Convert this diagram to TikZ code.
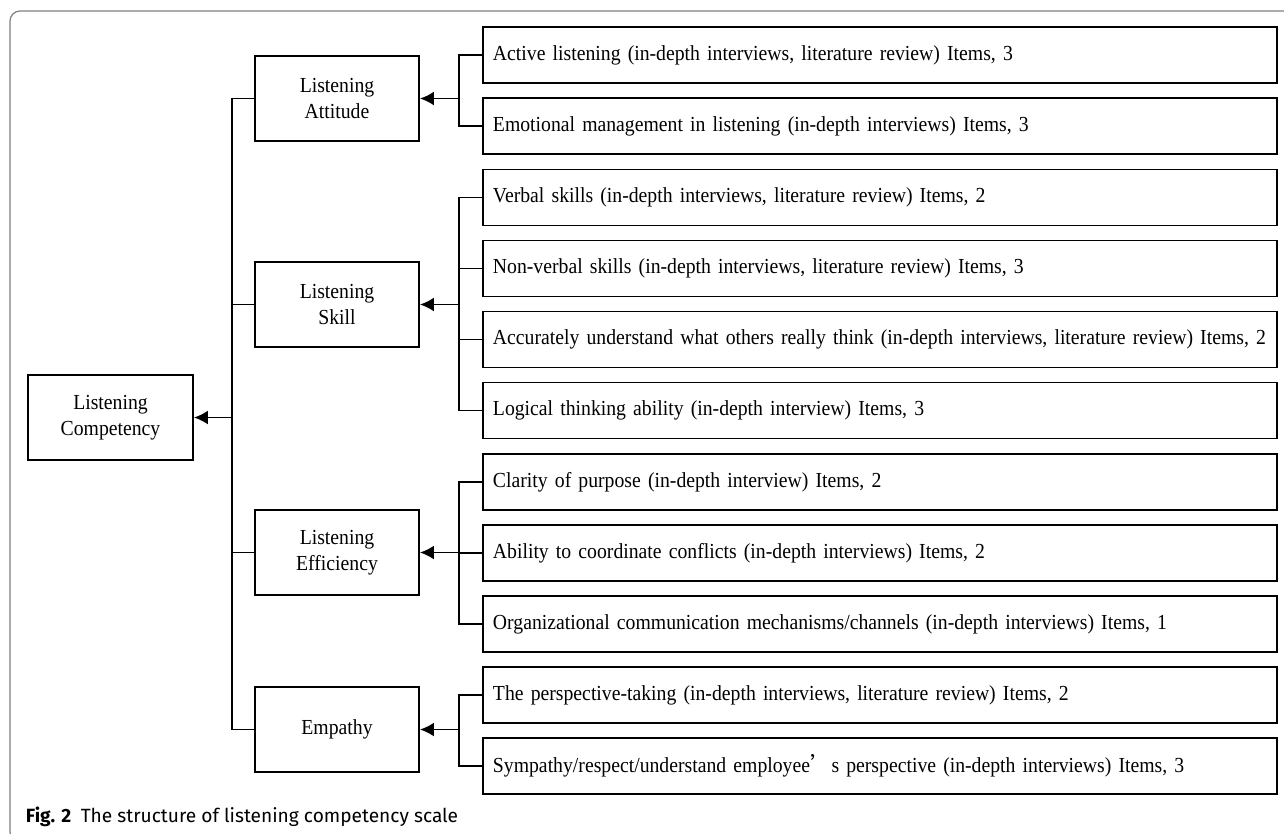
\documentclass[tikz,border=0pt]{standalone}
\usepackage{fontspec}
\setmainfont{Liberation Serif}[FakeStretch=0.92]
\newfontfamily\capfont{Fira Sans}
\newfontfamily\cjk{Noto Sans CJK SC}
\usetikzlibrary{arrows.meta, positioning}

\begin{document}
\begin{tikzpicture}[x=0.02cm, y=-0.02cm, line width=1.1pt, >={Latex[length=0.28cm,width=0.28cm]},
    cat/.style={draw, rectangle, minimum width=3.28cm, minimum height=1.7cm, align=center, font=\fontsize{12.2}{14.8}\selectfont},
    item/.style={draw, rectangle, anchor=west, text width=15.48cm, inner xsep=0.2cm, minimum height=1.12cm, align=left, font=\fontsize{12.2}{14.8}\selectfont}]
    \useasboundingbox (0,0) rectangle (1284,833);

    % Outer frame
    \draw [gray, line width=0.7pt, rounded corners=0.2cm] (1300,11) -- (10,11) -- (10,842) -- (40,842);

    % Root
    \node [cat, minimum width=3.3cm] (root) at (110.5,417.5) {Listening\\Competency};

    % Dimensions
    \node [cat] (att) at (337,98.5) {Listening\\Attitude};
    \node [cat] (skl) at (337,304.5) {Listening\\Skill};
    \node [cat] (eff) at (337,552.5) {Listening\\Efficiency};
    \node [cat] (emp) at (337,729.5) {Empathy};

    % Items
    \node [item] (i1) at (482,55) {Active listening (in-depth interviews, literature review) Items, 3};
    \node [item] (i2) at (482,126) {Emotional management in listening (in-depth interviews) Items, 3};
    \node [item] (i3) at (482,197.5) {Verbal skills (in-depth interviews, literature review) Items, 2};
    \node [item] (i4) at (482,268.5) {Non-verbal skills (in-depth interviews, literature review) Items, 3};
    \node [item] (i5) at (482,339.5) {Accurately understand what others really think (in-depth interviews, literature review) Items, 2};
    \node [item] (i6) at (482,410.5) {Logical thinking ability (in-depth interview) Items, 3};
    \node [item] (i7) at (482,482) {Clarity of purpose (in-depth interview) Items, 2};
    \node [item] (i8) at (482,553) {Ability to coordinate conflicts (in-depth interviews) Items, 2};
    \node [item] (i9) at (482,624) {Organizational communication mechanisms/channels (in-depth interviews) Items, 1};
    \node [item] (i10) at (482,695) {The perspective-taking (in-depth interviews, literature review) Items, 2};
    \node [item] (i11) at (482,766) {Sympathy/respect/understand employee{\cjk ’}s perspective (in-depth interviews) Items, 3};

    % Caption
    \node [anchor=base west, inner sep=0pt, font=\capfont\fontsize{10.9}{12}\selectfont] (cap) at (25,822) {\textbf{Fig. 2}\enspace The structure of listening competency scale};

    % Connections: dimensions to root
    \coordinate (trunk) at (232,417.5);
    \draw [->] (trunk) -- (root.east);
    \draw (att.west) -| (trunk);
    \draw (emp.west) -| (trunk);
    \draw (skl.west) -- (skl.west -| trunk);
    \draw (eff.west) -- (eff.west -| trunk);

    % Connections: items to dimensions
    \coordinate (ba) at (459,98.5);
    \coordinate (bs) at (459,304.5);
    \coordinate (be) at (459,552.5);
    \coordinate (bm) at (459,729.5);
    \draw [->] (ba) -- (att.east);
    \draw [->] (bs) -- (skl.east);
    \draw [->] (be) -- (eff.east);
    \draw [->] (bm) -- (emp.east);
    \draw (i1.west) -| (ba);
    \draw (i2.west) -| (ba);
    \draw (i3.west) -| (bs);
    \draw (i4.west) -| (bs);
    \draw (i5.west) -| (bs);
    \draw (i6.west) -| (bs);
    \draw (i7.west) -| (be);
    \draw (i8.west) -| (be);
    \draw (i9.west) -| (be);
    \draw (i10.west) -| (bm);
    \draw (i11.west) -| (bm);
\end{tikzpicture}
\end{document}
